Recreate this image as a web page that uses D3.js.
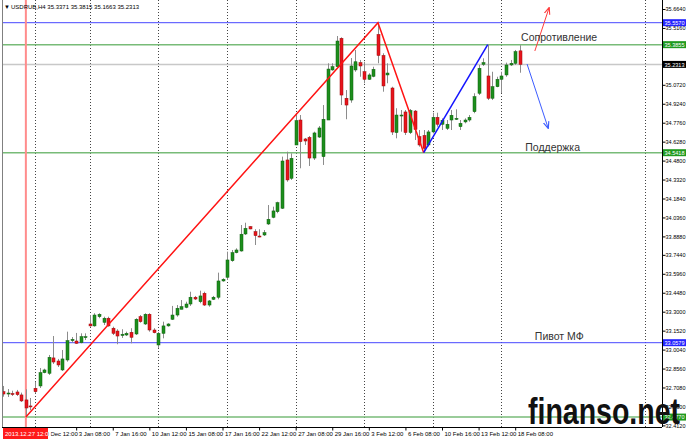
<!DOCTYPE html>
<html>
<head>
<meta charset="utf-8">
<script src="https://cdn.jsdelivr.net/npm/d3@7"></script>
<style>
  body { margin: 0; background: #fff; }
  svg { display: block; font-family: "Liberation Sans", Arial, sans-serif; }
</style>
</head>
<body>
<svg width="688" height="439"></svg>
<script>
// trading days on the chart, 3 H4 bars per day
var days = ["25 Dec","26 Dec","27 Dec","30 Dec","31 Dec","2 Jan","3 Jan",
  "6 Jan","7 Jan","8 Jan","9 Jan","10 Jan","13 Jan","14 Jan","15 Jan","16 Jan","17 Jan",
  "20 Jan","21 Jan","22 Jan","23 Jan","24 Jan","27 Jan","28 Jan","29 Jan","30 Jan","31 Jan",
  "3 Feb","4 Feb","5 Feb","6 Feb","7 Feb","10 Feb","11 Feb","12 Feb","13 Feb","14 Feb",
  "17 Feb","18 Feb"];
var sessions = ["08:00","12:00","16:00"];
var mondays = ["30 Dec","6 Jan","13 Jan","20 Jan","27 Jan","3 Feb","10 Feb","17 Feb"];

var opens = [32.675,32.657,32.661,32.673,32.650,32.611,32.564,32.702,32.720,32.824,
  32.819,32.939,32.915,32.845,32.923,33.074,33.071,33.058,33.099,33.204,
  33.189,33.261,33.217,33.249,33.171,33.149,33.114,33.118,33.139,33.126,
  33.261,33.204,33.280,33.157,33.040,33.131,33.189,33.241,33.274,33.319,
  33.334,33.360,33.413,33.378,33.444,33.352,33.397,33.413,33.540,33.569,
  33.698,33.761,33.774,33.907,33.964,33.925,33.891,33.899,33.985,34.037,
  34.081,34.108,34.485,34.342,34.602,34.797,34.649,34.661,34.500,34.664,
  34.511,34.797,35.188,35.213,35.435,34.967,34.953,35.188,35.245,35.174,
  35.115,35.138,35.465,35.301,35.149,35.047,34.699,34.834,34.860,34.699,
  34.867,34.667,34.676,34.602,34.704,34.818,34.764,34.732,34.797,34.807,
  34.745,34.782,34.797,34.862,35.006,35.232,35.141,34.967,35.057,35.115,
  35.149,35.227,35.240,35.3371];
var highs = [32.720,32.696,32.683,32.689,32.668,32.694,32.626,32.753,32.860,32.855,
  32.962,33.110,32.931,33.001,33.144,33.102,33.134,33.131,33.131,33.274,
  33.288,33.288,33.261,33.261,33.183,33.163,33.163,33.144,33.171,33.249,
  33.274,33.288,33.288,33.171,33.142,33.222,33.210,33.345,33.352,33.391,
  33.378,33.456,33.423,33.464,33.456,33.391,33.423,33.605,33.561,33.769,
  33.782,33.795,33.977,33.995,33.969,33.944,33.944,33.938,34.133,34.120,
  34.159,34.511,34.550,34.537,34.850,34.836,34.657,34.672,34.706,34.750,
  34.914,35.240,35.240,35.453,35.443,35.031,35.281,35.344,35.266,35.252,
  35.162,35.213,35.557,35.318,35.240,35.057,34.889,34.875,34.875,34.883,
  34.875,34.719,34.719,34.719,34.854,34.854,34.810,34.797,34.875,34.881,
  34.797,34.810,34.836,35.006,35.227,35.279,35.3855,35.174,35.135,35.174,
  35.245,35.266,35.344,35.3815];
var lows = [32.636,32.634,32.642,32.642,32.595,32.477,32.532,32.663,32.704,32.819,
  32.806,32.892,32.868,32.837,32.910,33.058,33.048,33.053,33.079,33.183,
  33.183,33.249,33.196,33.183,33.118,33.046,33.095,33.110,33.053,33.118,
  33.214,33.196,33.144,33.131,33.017,33.092,33.183,33.235,33.261,33.319,
  33.327,33.345,33.391,33.366,33.345,33.339,33.391,33.397,33.534,33.548,
  33.690,33.756,33.769,33.899,33.944,33.821,33.881,33.891,33.977,34.030,
  34.069,34.102,34.315,34.329,34.602,34.420,34.602,34.438,34.485,34.657,
  34.446,34.797,35.182,35.213,34.914,34.803,34.932,35.174,35.135,35.084,
  35.110,35.131,35.240,35.018,35.084,34.680,34.654,34.706,34.680,34.688,
  34.641,34.589,34.5418,34.589,34.693,34.745,34.719,34.719,34.719,34.797,
  34.719,34.771,34.784,34.850,34.992,35.219,34.953,34.953,35.053,35.008,
  35.135,35.219,35.227,35.1663];
var closes = [32.657,32.665,32.653,32.652,32.603,32.548,32.558,32.675,32.824,32.845,
  32.944,32.907,32.884,32.931,33.074,33.084,33.053,33.105,33.105,33.189,
  33.274,33.280,33.249,33.189,33.131,33.110,33.124,33.131,33.100,33.241,
  33.222,33.280,33.157,33.136,33.131,33.189,33.204,33.274,33.327,33.339,
  33.360,33.413,33.399,33.423,33.352,33.384,33.413,33.540,33.553,33.704,
  33.761,33.782,33.905,33.951,33.946,33.894,33.886,33.917,34.022,34.087,
  34.151,34.477,34.329,34.498,34.792,34.628,34.633,34.500,34.696,34.735,
  34.803,35.195,35.213,35.414,34.992,34.914,35.219,35.252,35.219,35.115,
  35.149,35.193,35.301,35.063,35.164,34.703,34.836,34.836,34.699,34.871,
  34.723,34.602,34.576,34.704,34.818,34.764,34.795,34.764,34.834,34.810,
  34.771,34.797,34.818,34.979,35.201,35.245,34.967,35.057,35.115,35.141,
  35.227,35.240,35.331,35.2313];

var priceTicks = [35.6640,35.5160,35.0720,34.9240,34.7760,34.6280,34.4800,34.3320,
  34.1840,34.0360,33.8880,33.7440,33.5960,33.4480,33.3000,33.1520,33.0040,32.8560,
  32.7080,32.5600,32.4120];
var blueLevels = [35.5570, 33.0579];
var greenLevels = [35.3855, 34.5418, 32.4770];
var markedTime = "27 Dec 12:00", markedLabel = "2013.12.27 12:00";
var header = "USDRUB,H4  35.3371 35.3815 35.1663 35.2313";

var times = [];
days.forEach(function(d) { sessions.forEach(function(s) { times.push(d + " " + s); }); });
times = times.slice(2, 2 + opens.length);
var n = opens.length;

var svg = d3.select("svg"),
    width = +svg.attr("width"),
    height = +svg.attr("height"),
    left = 2, right = 662, bottom = 427;

var x = d3.scaleLinear().domain([0, n - 1]).range([3, 3 + (n - 1) * 4.573]);
var y = d3.scaleLinear().domain([32.412, 35.664]).range([425.4, 9.0]);

svg.append("rect").attr("width", width).attr("height", height).attr("fill", "#fff");

svg.append("clipPath").attr("id", "plot")
  .append("rect").attr("x", left).attr("y", 0).attr("width", right - left).attr("height", bottom);
var g = svg.append("g").attr("clip-path", "url(#plot)");

// weekly dotted grid
var gridBars = mondays.map(function(d) { return times.indexOf(d + " 08:00"); });
gridBars.push(140.4);
g.selectAll(".grid").data(gridBars).enter().append("line")
  .attr("x1", function(d) { return Math.round(x(d)) + 0.5; })
  .attr("x2", function(d) { return Math.round(x(d)) + 0.5; })
  .attr("y1", 0).attr("y2", bottom)
  .attr("stroke", "#444").attr("stroke-dasharray", "1,2");

// horizontal levels
function hline(v, color, w) {
  g.append("line").attr("x1", left).attr("x2", right)
    .attr("y1", y(v)).attr("y2", y(v))
    .attr("stroke", color).attr("stroke-width", w);
}
hline(closes[n - 1], "#c8c8c8", 1.5);
greenLevels.forEach(function(v) { hline(v, "#78bb78", 1.5); });
blueLevels.forEach(function(v) { hline(v, "#4848ff", 1); });

// marked vertical line
var mi = times.indexOf(markedTime);
g.append("line").attr("x1", x(mi)).attr("x2", x(mi)).attr("y1", 0).attr("y2", bottom)
  .attr("stroke", "#ff8c8c").attr("stroke-width", 2);

// candles
var idx = d3.range(n);
g.selectAll(".wick").data(idx).enter().append("line")
  .attr("x1", function(i) { return Math.round(x(i)) + 0.5; })
  .attr("x2", function(i) { return Math.round(x(i)) + 0.5; })
  .attr("y1", function(i) { return y(highs[i]); })
  .attr("y2", function(i) { return y(lows[i]); })
  .attr("stroke", "#8c8c8c");
g.selectAll(".body").data(idx).enter().append("rect")
  .attr("x", function(i) { return Math.round(x(i)) - 1; })
  .attr("width", 3)
  .attr("y", function(i) { return y(Math.max(opens[i], closes[i])); })
  .attr("height", function(i) { return Math.max(1, Math.abs(y(opens[i]) - y(closes[i]))); })
  .attr("fill", function(i) { return closes[i] >= opens[i] ? "#1c8f1c" : "#e8141c"; })
  .attr("stroke", function(i) { return closes[i] >= opens[i] ? "#0d5e0d" : "#9a0a0a"; })
  .attr("stroke-width", 0.5);

// trend lines
var line = d3.line().x(function(d) { return x(d[0]); }).y(function(d) { return y(d[1]); });
g.append("path").attr("d", line([[5, lows[5]], [82, highs[82]], [92, lows[92]]]))
  .attr("fill", "none").attr("stroke", "#ff1414").attr("stroke-width", 1.5);
g.append("path").attr("d", line([[92, lows[92]], [106, highs[106]]]))
  .attr("fill", "none").attr("stroke", "#1414ff").attr("stroke-width", 1.5);

// forecast arrows
var defs = svg.append("defs");
[["arRed", "#ff3c3c"], ["arBlue", "#3c5cff"]].forEach(function(m) {
  defs.append("marker").attr("id", m[0]).attr("viewBox", "0 0 10 10")
    .attr("refX", 9).attr("refY", 5).attr("markerWidth", 7).attr("markerHeight", 7)
    .attr("orient", "auto")
    .append("path").attr("d", "M0,1 L10,5 L0,9").attr("fill", "none")
    .attr("stroke", m[1]).attr("stroke-width", 1.6);
});
g.append("path").attr("d", line([[116.3, 35.336], [119.4, 35.672]]))
  .attr("stroke", "#ff3c3c").attr("stroke-width", 1).attr("marker-end", "url(#arRed)");
g.append("path").attr("d", line([[114.6, 35.234], [119.2, 34.735]]))
  .attr("stroke", "#3c5cff").attr("stroke-width", 1).attr("marker-end", "url(#arBlue)");

// text objects
[["Сопротивление", 113.3, 35.414], ["Поддержка", 114.2, 34.555], ["Пивот МФ", 116.3, 33.079]]
  .forEach(function(t) {
    g.append("text").attr("x", x(t[1])).attr("y", y(t[2]))
      .attr("font-size", 10.5).attr("fill", "#333").text(t[0]);
  });

// frame
svg.append("line").attr("x1", left + 0.5).attr("x2", left + 0.5).attr("y1", 0).attr("y2", bottom)
  .attr("stroke", "#808080");
svg.append("line").attr("x1", left).attr("x2", right).attr("y1", bottom + 0.5).attr("y2", bottom + 0.5)
  .attr("stroke", "#000");
svg.append("line").attr("x1", right + 0.5).attr("x2", right + 0.5).attr("y1", 0).attr("y2", bottom)
  .attr("stroke", "#000");

// price axis
var yAxis = d3.axisRight(y).tickValues(priceTicks).tickSize(3).tickFormat(d3.format(".4f"));
var ya = svg.append("g").attr("transform", "translate(" + (right + 0.5) + ",0)").call(yAxis);
ya.select(".domain").remove();
ya.selectAll("text").attr("x", 3).attr("font-size", 5.8).attr("fill", "#000").attr("font-family", null)
  .attr("textLength", 20).attr("lengthAdjust", "spacingAndGlyphs");

// time axis
var xAxis = d3.axisBottom(x).tickValues(d3.range(0, n, 8)).tickSize(3)
  .tickFormat(function(i) { return times[i]; });
var xa = svg.append("g").attr("transform", "translate(0," + (bottom + 0.5) + ")").call(xAxis);
xa.select(".domain").remove();
xa.selectAll("text").attr("text-anchor", "start").attr("x", 2).attr("y", 4)
  .attr("font-size", 6).attr("fill", "#000").attr("font-family", null);

// level price boxes
function tag(v, bg) {
  var t = svg.append("g").attr("transform", "translate(" + (right + 1) + "," + y(v) + ")");
  t.append("rect").attr("x", 0).attr("y", -3.5).attr("width", 23).attr("height", 7).attr("fill", bg);
  t.append("text").attr("x", 1.5).attr("y", 2.1).attr("font-size", 5.8).attr("fill", "#fff")
    .attr("textLength", 20).attr("lengthAdjust", "spacingAndGlyphs")
    .text(d3.format(".4f")(v));
}
blueLevels.forEach(function(v) { tag(v, "#2424ff"); });
greenLevels.forEach(function(v) { tag(v, "#1f9a1f"); });
tag(closes[n - 1], "#000");

// watermark over everything
svg.append("text").attr("x", 528).attr("y", 424)
  .attr("font-size", 36).attr("font-weight", "bold").attr("fill", "#111")
  .attr("textLength", 152).attr("lengthAdjust", "spacingAndGlyphs")
  .text("finanso.net");

// marked time box
svg.append("rect").attr("x", 3).attr("y", bottom + 1).attr("width", 45).attr("height", 11).attr("fill", "#ff1a1a");
svg.append("text").attr("x", 5).attr("y", bottom + 9).attr("font-size", 6).attr("fill", "#fff").text(markedLabel);

// header
svg.append("text").attr("x", 4).attr("y", 9).attr("font-size", 6).text("▼");
svg.append("text").attr("x", 11).attr("y", 9).attr("font-size", 6).attr("fill", "#000").text(header);
</script>
</body>
</html>
